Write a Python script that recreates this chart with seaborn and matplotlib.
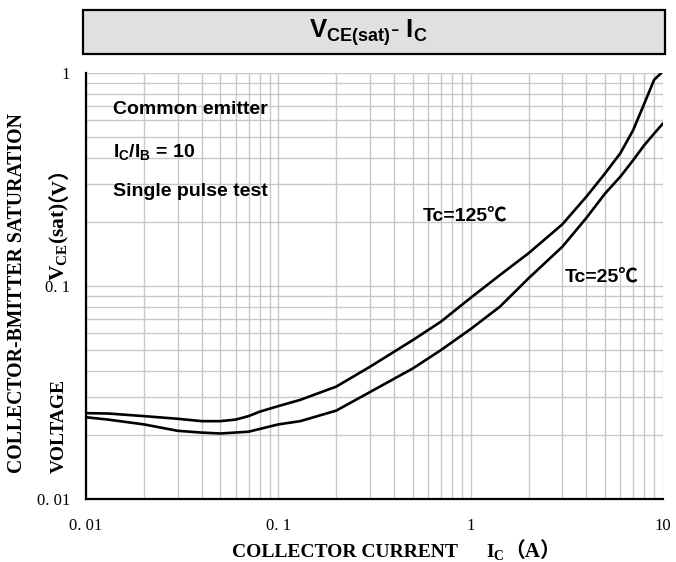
import numpy as np
import pandas as pd
import matplotlib
matplotlib.use("Agg")
import matplotlib.pyplot as plt
import seaborn as sns
from matplotlib.patches import Rectangle

# ---- data ----
ic_125 = [0.01, 0.013, 0.02, 0.03, 0.04, 0.05, 0.06, 0.07, 0.08, 0.1, 0.13, 0.2, 0.3, 0.5, 0.7,
          1.0, 1.42, 2.0, 3.0, 4.0, 5.0, 6.0, 7.0, 8.0, 9.0, 9.8]
vce_125 = [0.0253, 0.0252, 0.0245, 0.0238, 0.0232, 0.0232, 0.0236, 0.0245, 0.0257, 0.0273, 0.0292,
           0.0337, 0.0418, 0.0557, 0.068, 0.088, 0.1126, 0.1425, 0.195, 0.263, 0.338, 0.42, 0.54,
           0.72, 0.93, 1.0]
ic_25 = [0.01, 0.013, 0.02, 0.03, 0.04, 0.05, 0.07, 0.1, 0.13, 0.2, 0.3, 0.5, 0.7,
         1.0, 1.42, 2.0, 3.0, 4.0, 5.0, 6.0, 7.0, 8.0, 9.0, 10.0]
vce_25 = [0.0242, 0.0236, 0.0224, 0.0209, 0.0205, 0.0203, 0.0207, 0.0224, 0.0232, 0.026, 0.0318,
          0.041, 0.050, 0.0628, 0.080, 0.1087, 0.153, 0.209, 0.272, 0.326, 0.39, 0.459, 0.52, 0.58]
x_ticks = [0.01, 0.1, 1, 10]
x_ticklabels = ["0. 01", "0. 1", "1", "10"]
y_ticks = [0.01, 0.1, 1]
y_ticklabels = ["0. 01", "0. 1", "1"]

df = pd.concat([
    pd.DataFrame({"Ic": ic_125, "Vce": vce_125, "Tc": "125"}),
    pd.DataFrame({"Ic": ic_25, "Vce": vce_25, "Tc": "25"}),
])

sns.set_theme(style="white")
plt.rcParams["font.family"] = ["Liberation Sans", "DejaVu Sans"]
plt.rcParams["mathtext.fontset"] = "custom"
plt.rcParams["mathtext.rm"] = "Liberation Sans:bold"
plt.rcParams["mathtext.it"] = "Liberation Sans:bold"
plt.rcParams["mathtext.bf"] = "Liberation Sans:bold"
for k in ["text.color", "axes.labelcolor", "xtick.color", "ytick.color"]:
    plt.rcParams[k] = "black"

W, H = 676, 562
fig = plt.figure(figsize=(W/100, H/100), dpi=100)
ax = fig.add_axes([86/W, 1-499/H, (663-86)/W, (499-73)/H])

sns.lineplot(data=df, x="Ic", y="Vce", hue="Tc", palette={"125": "black", "25": "black"},
             linewidth=1.9, legend=False, ax=ax, sort=False, estimator=None)

ax.set_xscale("log")
ax.set_yscale("log")
ax.set_xlim(0.01, 10)
ax.set_ylim(0.01, 1)

ax.grid(True, which="both", color="#c8c8c8", linewidth=1.0)
ax.set_axisbelow(True)
for s in ["top", "right"]:
    ax.spines[s].set_visible(False)
for s in ["left", "bottom"]:
    ax.spines[s].set_color("black")
    ax.spines[s].set_linewidth(1.6)

serif = ["Liberation Serif", "Noto Sans CJK SC", "DejaVu Sans"]
ax.set_xticks(x_ticks)
ax.set_xticklabels(x_ticklabels, fontfamily=serif, fontsize=12)
ax.set_yticks(y_ticks)
ax.set_yticklabels(y_ticklabels, fontfamily=serif, fontsize=12)
ax.tick_params(axis="both", which="major", direction="in", length=4, width=1, color="black")
ax.tick_params(axis="x", which="major", pad=14)
ax.tick_params(axis="y", which="major", pad=11.5)
ax.tick_params(axis="both", which="minor", length=0)
ax.set_xlabel("")
ax.set_ylabel("")

# annotations
fs_ann = 14
fig.text(113/W, 1-109/H, "Common emitter", fontsize=fs_ann, fontweight="bold", va="center")
fig.text(113/W, 1-152/H, r"$\mathrm{I_C/I_B}$ = 10", fontsize=fs_ann, fontweight="bold", va="center")
fig.text(113/W, 1-192/H, "Single pulse test", fontsize=fs_ann, fontweight="bold", va="center")
cfam = ["Liberation Sans", "Noto Sans CJK SC", "DejaVu Sans"]
fig.text(423/W, 1-217/H, "Tc=125℃", fontsize=fs_ann, fontweight="bold", va="center", family=cfam)
fig.text(565/W, 1-278/H, "Tc=25℃", fontsize=fs_ann, fontweight="bold", va="center", family=cfam)

# title box
fig.patches.append(Rectangle((83/W, 1-54/H), 582/W, 44/H, transform=fig.transFigure,
                             facecolor="#e0e0e0", edgecolor="black", linewidth=1.6))
fig.text(368/W, 1-33/H, r"$\mathrm{V_{CE(sat)}}$- $\mathrm{I_C}$", fontsize=18.5,
         ha="center", va="center")

renderer = fig.canvas.get_renderer()

def chain_h(x0, ybase, pieces, **kw):
    x = x0
    for s, extra, dy in pieces:
        t = fig.text(x/W, 1-(ybase+dy)/H, s, ha="left", va="baseline", **kw, **extra)
        bb = t.get_window_extent(renderer)
        x = bb.x1

def chain_v(xbase, ybottom, pieces, **kw):
    # text rotated 90, reading upward; baseline at x = xbase (pixels)
    yb = H - ybottom
    for s, extra, dx in pieces:
        t = fig.text((xbase+dx)/W, yb/H, s, ha="left", va="baseline", rotation=90,
                     rotation_mode="anchor", **kw, **extra)
        bb = t.get_window_extent(renderer)
        yb = bb.y1

# axis labels
fig.text(17.5/W, 1-473/H, "COLLECTOR-BMITTER SATURATION", rotation=90, fontsize=14.2,
         fontweight="bold", family=serif, ha="center", va="bottom")
chain_v(64, 473, [("VOLTAGE", {"fontsize": 14}, 0)], fontweight="bold", family=serif)
chain_v(64, 281, [(r"V$_{\mathregular{CE}}$(sat)", {"fontsize": 15.5}, 0),
                  ("（V）", {"fontsize": 15}, -11)],
        fontweight="bold", family=serif)

chain_h(232, 557, [("COLLECTOR CURRENT", {"fontsize": 14}, 0)], fontweight="bold", family=serif)
chain_h(486, 557, [(r"I$_{\mathregular{C}}$", {"fontsize": 14}, 0), ("（A）", {"fontsize": 15}, 0)],
        fontweight="bold", family=serif)

fig.savefig("out.png", dpi=100)
